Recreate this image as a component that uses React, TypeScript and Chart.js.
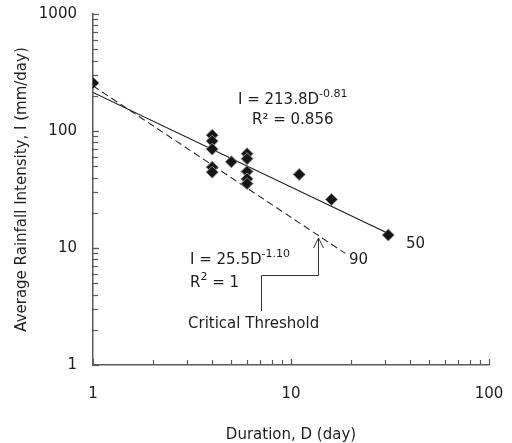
import React, { useEffect, useRef } from "react";
import { Chart, registerables } from "chart.js";

Chart.register(...registerables);

// Observed events (duration in days, average intensity in mm/day)
const durations = [1, 4, 4, 4, 4, 4, 5, 6, 6, 6, 6, 6, 11, 16, 31];
const intensities = [257, 92, 82, 70, 49, 44.5, 54.5, 64, 58, 45, 39, 35.5, 42.5, 26, 12.9];

// 50th percentile fit line end points
const trend50D = [1, 31];
const trend50I = [213.8, 13.3];

// 90th percentile (critical threshold) line end points
const threshold90D = [1, 18.8];
const threshold90I = [243, 9.0];

// Axis tick labels
const xTickValues = [1, 10, 100];
const yTickValues = [1, 10, 100, 1000];

const FONT = "'DejaVu Sans', Verdana, sans-serif";
const TEXT = "#1e1e1e";
const AXIS = "#5a5a5a";

type Part = { t: string; sup?: boolean };

function drawParts(ctx: CanvasRenderingContext2D, x: number, y: number, parts: Part[]) {
  let cx = x;
  ctx.textAlign = "left";
  ctx.textBaseline = "middle";
  ctx.fillStyle = TEXT;
  for (const p of parts) {
    ctx.font = p.sup ? `11px ${FONT}` : `15px ${FONT}`;
    ctx.fillText(p.t, cx, p.sup ? y - 6 : y);
    cx += ctx.measureText(p.t).width;
  }
}

const zeroPad = (s: any) => {
  s.paddingTop = 0;
  s.paddingBottom = 0;
  s.paddingLeft = 0;
  s.paddingRight = 0;
};

const decorPlugin = {
  id: "decor",
  afterDraw(chart: any) {
    const ctx: CanvasRenderingContext2D = chart.ctx;
    const xs = chart.scales.x;
    const ys = chart.scales.y;
    const area = chart.chartArea;
    ctx.save();
    // inward tick marks (major + minor) on log axes
    ctx.strokeStyle = AXIS;
    ctx.lineWidth = 1.2;
    for (let d = 1; d < 100; d *= 10) {
      for (let k = 1; k <= 10; k++) {
        const v = d * k;
        if (v > 100) continue;
        const px = Math.round(xs.getPixelForValue(v)) + 0.5;
        const len = k === 1 || k === 10 ? 6 : 5;
        ctx.beginPath();
        ctx.moveTo(px, area.bottom);
        ctx.lineTo(px, area.bottom - len);
        ctx.stroke();
      }
    }
    for (let d = 1; d < 1000; d *= 10) {
      for (let k = 1; k <= 10; k++) {
        const v = d * k;
        if (v > 1000) continue;
        const py = Math.round(ys.getPixelForValue(v)) + 0.5;
        const len = k === 1 || k === 10 ? 6 : 5;
        ctx.beginPath();
        ctx.moveTo(area.left, py);
        ctx.lineTo(area.left + len, py);
        ctx.stroke();
      }
    }

    // Equations
    drawParts(ctx, 238, 100, [{ t: "I = 213.8D" }, { t: "-0.81", sup: true }]);
    drawParts(ctx, 252, 120, [{ t: "R² = 0.856" }]);
    drawParts(ctx, 190, 260, [{ t: "I = 25.5D" }, { t: "-1.10", sup: true }]);
    drawParts(ctx, 190, 283, [{ t: "R" }, { t: "2", sup: true }, { t: " = 1" }]);
    drawParts(ctx, 188, 324, [{ t: "Critical Threshold" }]);
    drawParts(ctx, 406, 244, [{ t: "50" }]);
    drawParts(ctx, 349, 260, [{ t: "90" }]);

    // Arrow to threshold line
    ctx.strokeStyle = "#333";
    ctx.lineWidth = 1;
    ctx.beginPath();
    ctx.moveTo(261.5, 311);
    ctx.lineTo(261.5, 275.5);
    ctx.lineTo(318.5, 275.5);
    ctx.lineTo(318.5, 238);
    ctx.stroke();
    ctx.beginPath();
    ctx.moveTo(313.5, 248);
    ctx.lineTo(318.5, 238);
    ctx.lineTo(323.5, 248);
    ctx.stroke();
    ctx.restore();
  },
};

export default function App() {
  const ref = useRef<HTMLCanvasElement | null>(null);

  useEffect(() => {
    if (!ref.current) return;
    const points = durations.map((d, i) => ({ x: d, y: intensities[i] }));
    const trend = trend50D.map((d, i) => ({ x: d, y: trend50I[i] }));
    const thr = threshold90D.map((d, i) => ({ x: d, y: threshold90I[i] }));

    const chart = new Chart(ref.current, {
      type: "scatter",
      data: {
        datasets: [
          {
            label: "Events",
            data: points,
            pointStyle: "rectRot",
            pointRadius: 6,
            pointBackgroundColor: "#151515",
            pointBorderColor: "#8a8a8a",
            pointBorderWidth: 1,
            showLine: false,
          },
          {
            label: "50",
            data: trend,
            showLine: true,
            borderColor: "#1a1a1a",
            borderWidth: 1.1,
            pointRadius: 0,
          },
          {
            label: "90",
            data: thr,
            showLine: true,
            borderColor: "#2a2a2a",
            borderWidth: 1.1,
            borderDash: [7, 4],
            pointRadius: 0,
          },
        ],
      } as any,
      options: {
        responsive: false,
        animation: false,
        layout: { padding: { top: 14, right: 23, left: 0, bottom: 0 } },
        plugins: {
          legend: { display: false },
          tooltip: { enabled: false },
        },
        scales: {
          x: {
            type: "logarithmic",
            min: 1,
            max: 100,
            position: "bottom",
            grid: { display: false, drawTicks: false },
            border: { display: true, color: AXIS, width: 1.5 },
            afterBuildTicks: (s: any) => {
              s.ticks = xTickValues.map((v) => ({ value: v }));
            },
            afterFit: (s: any) => {
              s.height = 78;
              zeroPad(s);
            },
            ticks: {
              padding: 20,
              color: TEXT,
              font: { family: FONT, size: 15 },
              callback: (v: any) => String(v),
              autoSkip: false,
              maxRotation: 0,
            },
            title: {
              display: true,
              text: "Duration, D (day)",
              color: TEXT,
              font: { family: FONT, size: 15, lineHeight: 1 },
              padding: { top: 0, bottom: 0 },
            },
          },
          y: {
            type: "logarithmic",
            min: 1,
            max: 1000,
            grid: { display: false, drawTicks: false },
            border: { display: true, color: AXIS, width: 1.5 },
            afterBuildTicks: (s: any) => {
              s.ticks = yTickValues.map((v) => ({ value: v }));
            },
            afterFit: (s: any) => {
              s.width = 93;
              zeroPad(s);
            },
            ticks: {
              padding: 16,
              color: TEXT,
              font: { family: FONT, size: 15 },
              callback: (v: any) => String(v),
              autoSkip: false,
            },
            title: {
              display: true,
              text: "Average Rainfall Intensity, I (mm/day)",
              color: TEXT,
              font: { family: FONT, size: 15 },
              padding: { top: 13, bottom: 0 },
            },
          },
        },
      } as any,
      plugins: [decorPlugin],
    });
    return () => chart.destroy();
  }, []);

  return (
    <div style={{ position: "absolute", left: 0, top: 0, width: 512, height: 443, background: "#fff" }}>
      <canvas ref={ref} width={512} height={443} />
    </div>
  );
}
